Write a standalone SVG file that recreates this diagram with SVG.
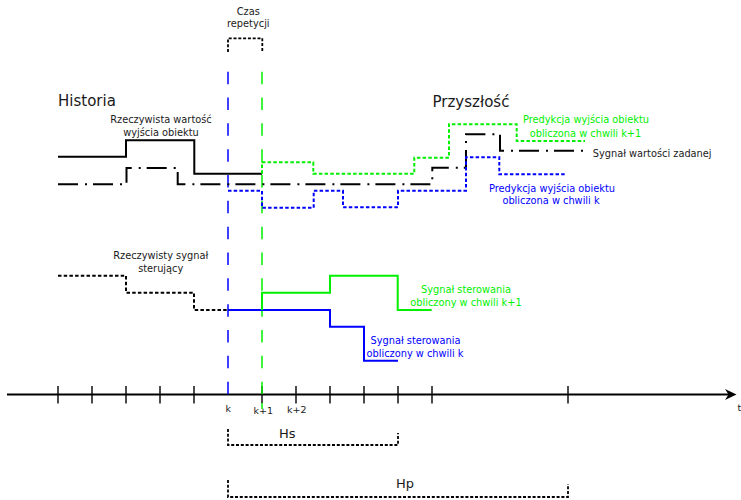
<svg xmlns="http://www.w3.org/2000/svg" width="741" height="500" viewBox="0 0 741 500">
<style>
text{font-family:"DejaVu Sans","Liberation Sans",sans-serif;fill:#1a1a1a}
.lbl{font-size:9.8px;text-anchor:middle}
.big{font-size:15px}
.tk{font-size:9.5px;text-anchor:middle}
.g{fill:#00f000}
.b{fill:#0000ff}
.sig{fill:none;stroke-width:2;stroke-linejoin:miter}
.dot{stroke-dasharray:3.5 2.2}
.br{fill:none;stroke:#000;stroke-width:1.8;stroke-dasharray:3 1.8}
.vd{stroke-width:1.5;stroke-dasharray:12.5 13.33}
.tick{stroke:#000;stroke-width:1.4}
</style>
<rect width="741" height="500" fill="#fff"/>

<g id="time-axis">
<line x1="7" y1="394.5" x2="730" y2="394.5" stroke="#000" stroke-width="2"/>
<path d="M736.5,394.5 L725,389 L728.5,394.5 L725,400 Z" fill="#000"/>
<g class="tick">
<line x1="58" y1="386" x2="58" y2="403.5"/>
<line x1="92" y1="386" x2="92" y2="403.5"/>
<line x1="126" y1="386" x2="126" y2="403.5"/>
<line x1="160" y1="386" x2="160" y2="403.5"/>
<line x1="194" y1="386" x2="194" y2="403.5"/>
<line x1="262" y1="386" x2="262" y2="403.5"/>
<line x1="296" y1="386" x2="296" y2="403.5"/>
<line x1="330" y1="386" x2="330" y2="403.5"/>
<line x1="364" y1="386" x2="364" y2="403.5"/>
<line x1="398" y1="386" x2="398" y2="403.5"/>
<line x1="432" y1="386" x2="432" y2="403.5"/>
<line x1="568" y1="386" x2="568" y2="403.5"/>
</g>
<text class="tk" x="228.3" y="412">k</text>
<text class="tk" x="263.3" y="414">k+1</text>
<text class="tk" x="296.7" y="412.5">k+2</text>
<text x="737.5" y="411" style="font-size:9.5px">t</text>
</g>

<g id="connectors">
<line class="vd" x1="228" y1="71.7" x2="228" y2="394.3" stroke="#0000ff"/>
<line class="vd" x1="262" y1="71.7" x2="262" y2="394.3" stroke="#00f000"/>
<line x1="262" y1="403" x2="262" y2="409" stroke="#00f000" stroke-width="1.5"/>
</g>

<g id="czas-repetycji">
<path class="br" d="M228,52 V38.3 H262.3 V52"/>
<text class="lbl" x="248.3" y="14.5">Czas</text>
<text class="lbl" x="248.3" y="26.5">repetycji</text>
</g>

<g id="headings">
<text class="big" x="58" y="106">Historia</text>
<text class="big" x="432.5" y="106.5">Przyszłość</text>
</g>

<g id="setpoint">
<path class="sig" stroke="#000" stroke-dasharray="20 7 2 6" d="M58,184.3 H126.5 V168 H177.7 V184.3 H432.3 V167.7 H466 V134.3 H500 V150.7 H586"/>
<text x="592.7" y="156.5" style="font-size:9.8px">Sygnał wartości zadanej</text>
</g>

<g id="actual-output">
<path class="sig" stroke="#000" d="M58,156.7 H126 V140.3 H194.3 V173.8 H262"/>
<text class="lbl" x="161" y="123">Rzeczywista wartość</text>
<text class="lbl" x="161" y="136">wyjścia obiektu</text>
</g>

<g id="prediction-k1">
<path class="sig dot" stroke="#00f000" d="M262,173.8 V162.3 H313.3 V173.7 H414.3 V157.7 H449 V124.3 H516.7 V141 H585"/>
<text class="lbl g" x="586" y="122.5">Predykcja wyjścia obiektu</text>
<text class="lbl g" x="585.5" y="136.5">obliczona w chwili k+1</text>
</g>

<g id="prediction-k">
<path class="sig dot" stroke="#0000ff" d="M228,190.8 H262 V207.7 H313.7 V190.8 H343 V207.2 H398 V190.8 H466 V157.3 H499.3 V174.3 H565"/>
<text class="lbl b" x="552" y="191.5">Predykcja wyjścia obiektu</text>
<text class="lbl b" x="551" y="204">obliczona w chwili k</text>
</g>

<g id="actual-control">
<path class="sig dot" stroke="#000" d="M58,275.7 H126 V292.7 H194 V310 H262"/>
<text class="lbl" x="160.7" y="258.5">Rzeczywisty sygnał</text>
<text class="lbl" x="160.7" y="271.5">sterujący</text>
</g>

<g id="control-k">
<path class="sig" stroke="#0000ff" d="M228,310 H330 V326.7 H364 V360.7 H398"/>
<text class="lbl b" x="415.5" y="344">Sygnał sterowania</text>
<text class="lbl b" x="415" y="357">obliczony w chwili k</text>
</g>

<g id="control-k1">
<path class="sig" stroke="#00f000" d="M262,310 V292.7 H330 V275.7 H397.7 V310 H431.7"/>
<text class="lbl g" x="466" y="293.3">Sygnał sterowania</text>
<text class="lbl g" x="466" y="306">obliczony w chwili k+1</text>
</g>

<g id="horizon-hs">
<path class="br" d="M228,429 V445 H398 V433"/>
<text x="279" y="438" style="font-size:13px">Hs</text>
</g>

<g id="horizon-hp">
<path class="br" d="M228,480 V497 H568 V484"/>
<text x="396" y="488" style="font-size:13px">Hp</text>
</g>
</svg>
